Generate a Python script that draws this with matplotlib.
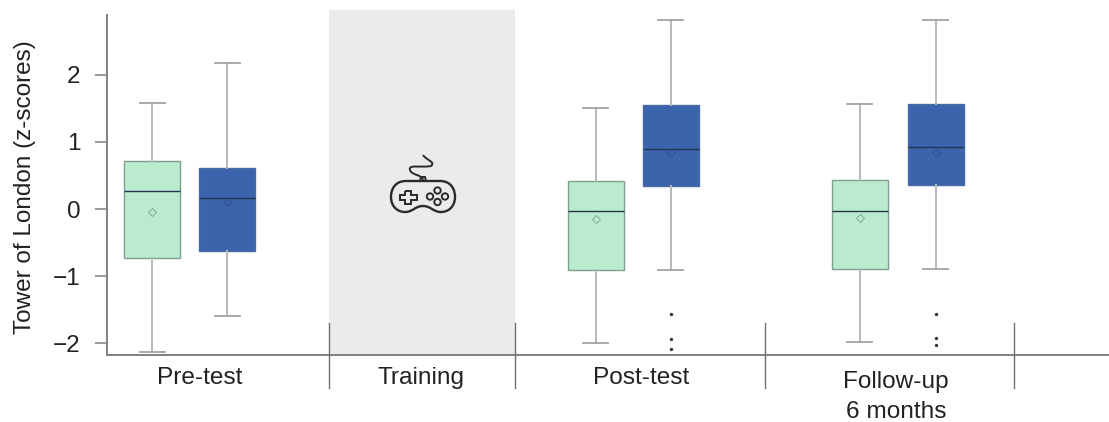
import matplotlib
matplotlib.use("Agg")
import matplotlib.pyplot as plt
from matplotlib.path import Path
from matplotlib.patches import PathPatch, Circle

plt.rcParams['font.family'] = ['Liberation Sans', 'DejaVu Sans']

phases = ['Pre-test', 'Training', 'Post-test', 'Follow-up\n6 months']
whislo = [-2.13, -1.59, -2.00, -0.91, -1.98, -0.89]
q1 = [-0.73, -0.63, -0.91, 0.34, -0.89, 0.36]
med = [0.27, 0.16, -0.03, 0.89, -0.03, 0.92]
q3 = [0.71, 0.61, 0.42, 1.55, 0.43, 1.56]
whishi = [1.58, 2.17, 1.50, 2.81, 1.56, 2.81]
means = [-0.05, 0.10, -0.15, 0.83, -0.13, 0.83]
fliers = [[], [], [], [-1.57, -1.94, -2.09], [], [-1.56, -1.92, -2.02]]
yticks = [-2, -1, 0, 1, 2]

W, H = 1109, 422
PX = 67.1
Y0 = 209
positions = [152, 227, 596, 671, 860, 936]
colors = ['#BBEBCF', '#3B64AD'] * 3
edges = ['#7E9F8E', '#4A6AA5'] * 3
seps = [329, 515, 765, 1014]

def y_val(py):
    return (Y0 - py) / PX

fig = plt.figure(figsize=(W / 100, H / 100), dpi=100)
ax = fig.add_axes([107 / W, (H - 355) / H, (W - 107) / W, 345 / H])
ax.set_xlim(107, W)
ax.set_ylim(y_val(355), y_val(10))

ax.axvspan(329.5, 515, color='#EBEBEB', lw=0, zorder=0)

stats = [dict(whislo=a, q1=b, med=c, q3=d, whishi=e, mean=m, fliers=f)
         for a, b, c, d, e, m, f in zip(whislo, q1, med, q3, whishi, means, fliers)]
bp = ax.bxp(stats, positions=positions, widths=56, capwidths=25, patch_artist=True,
            showmeans=True, manage_ticks=False,
            whiskerprops=dict(color='#B8B8B8', lw=1.4),
            capprops=dict(color='#A2A2A2', lw=1.3),
            medianprops=dict(color='#23344F', lw=1.0),
            meanprops=dict(marker='D', markersize=4, markerfacecolor='none',
                           markeredgecolor='#6A8A7C', markeredgewidth=0.6),
            flierprops=dict(marker='o', markersize=1.4, markerfacecolor='#333333',
                            markeredgecolor='#333333'))
for box, c, e in zip(bp['boxes'], colors, edges):
    box.set_facecolor(c)
    box.set_edgecolor(e)
    box.set_linewidth(1.0)
for line, c in zip(bp['means'], ['#7C9C8D', '#2D4C8C'] * 3):
    line.set_markeredgecolor(c)

for s in ['top', 'right']:
    ax.spines[s].set_visible(False)
for s in ['left', 'bottom']:
    ax.spines[s].set_color('#808080')
    ax.spines[s].set_linewidth(1.4)
ax.spines['left'].set_bounds(y_val(355), y_val(15))
ax.set_xticks([])
ax.set_yticks(yticks)
ax.set_yticklabels(['\u2212' + str(-t) if t < 0 else str(t) for t in yticks],
                   fontsize=17.5, color='#222222')
ax.tick_params(axis='y', length=8.5, width=1.1, color='#808080', pad=10.5)

# overlay in pixel coordinates for separators, phase labels and the gamepad icon
ov = fig.add_axes([0, 0, 1, 1], facecolor='none')
ov.set_xlim(0, W)
ov.set_ylim(H, 0)
ov.axis('off')
for x in seps:
    ov.plot([x, x], [323, 388], color='#6E6E6E', lw=1.0)

label_pos = [(200, 378), (421, 378), (641, 378), (896, 397)]
for name, (x, y) in zip(phases, label_pos):
    ov.text(x, y, name, ha='center', va='center', fontsize=17.6, color='#222222',
            linespacing=1.45)
ov.text(25, 187, 'Tower of London (z-scores)', rotation=90, ha='center', va='center',
        fontsize=17.5, color='#222222')

# gamepad icon
icon = '#2A2A2A'
body = Path(
    [(406, 181), (440, 181), (450, 181), (455, 188), (455, 197), (455, 206), (449, 212),
     (441, 212), (433, 212), (431, 206), (423, 206), (415, 206), (413, 212), (405, 212),
     (397, 212), (391, 206), (391, 197), (391, 188), (396, 181), (406, 181)],
    [Path.MOVETO, Path.LINETO, Path.CURVE4, Path.CURVE4, Path.CURVE4, Path.CURVE4, Path.CURVE4,
     Path.CURVE4, Path.CURVE4, Path.CURVE4, Path.CURVE4, Path.CURVE4, Path.CURVE4, Path.CURVE4,
     Path.CURVE4, Path.CURVE4, Path.CURVE4, Path.CURVE4, Path.CURVE4, Path.CURVE4])
ov.add_patch(PathPatch(body, fc='none', ec=icon, lw=1.7))
cross = [(405, 191), (411, 191), (411, 194.5), (416.5, 194.5), (416.5, 200), (411, 200),
         (411, 203.5), (405, 203.5), (405, 200), (400, 200), (400, 194.5), (405, 194.5), (405, 191)]
ov.add_patch(PathPatch(Path(cross), fc='none', ec=icon, lw=1.4))
for cx, cy in [(437.5, 190.5), (437.5, 202), (430, 196.5), (445, 196.5)]:
    ov.add_patch(Circle((cx, cy), 3.2, fc='none', ec=icon, lw=1.4))
cable = Path(
    [(423, 181), (423, 174), (412, 176), (410, 170), (408, 164), (421, 168),
     (431, 166), (436, 162), (426, 160), (423, 155)],
    [Path.MOVETO] + [Path.CURVE4] * 9)
ov.add_patch(PathPatch(cable, fc='none', ec=icon, lw=1.4))
ov.add_patch(PathPatch(Path([(420, 181), (421, 177), (425, 177), (426, 181)]),
                       fc='none', ec=icon, lw=1.4))

fig.savefig('out.png', dpi=100)
